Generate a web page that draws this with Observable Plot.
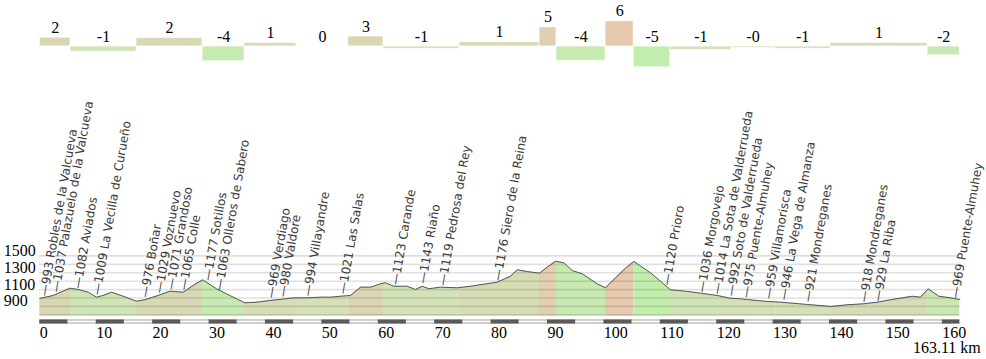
<!DOCTYPE html>
<html><head><meta charset="utf-8">
<script src="https://cdn.jsdelivr.net/npm/d3@7"></script>
<script src="https://cdn.jsdelivr.net/npm/@observablehq/plot@0.6"></script>
<style>
body{margin:0;background:#fff;}
#chart{position:relative;width:986px;height:359px;overflow:hidden;}
#chart svg{position:absolute;left:0;}
</style></head><body><div id="chart"></div>
<script>
const totalKm = 163.11;
// elevation profile (km, m)
const profileKm = [0,2.38,5.32,6.81,8.58,10.05,11.24,12.71,14.79,17.15,18.62,20.99,23.05,25.43,27.2,28.85,31.33,33.69,36.35,38.42,40.78,45.04,47.41,49.77,51.54,53.32,55.09,56.86,58.64,60.41,61.3,62.77,65.14,66.61,67.8,68.97,71.05,74.0,76.37,81.1,83.46,84.65,86.42,88.6,89.96,91.44,92.91,94.4,96.17,98.83,100.3,102.07,103.85,105.32,108.28,111.82,114.49,117.15,120.11,122.46,124.24,125.43,128.37,131.33,136.06,140.2,143.16,146.1,148.48,150.83,154.68,156.15,157.52,159.4,161.47,163.11];
const profileElev = [995,1030,1117,1101,1069,1010,1030,1069,1021,962,979,1030,1081,1069,1149,1217,1110,1030,943,950,970,1002,1002,1010,1010,1021,1030,1129,1129,1169,1181,1140,1140,1101,1140,1110,1129,1121,1140,1188,1260,1336,1315,1295,1367,1438,1419,1327,1288,1169,1121,1240,1355,1435,1300,1098,1081,1057,1030,997,990,982,962,950,923,899,919,931,950,979,1021,1010,1110,1021,1002,982];
// gradient segments
const segBounds = [0,5.44,17.15,28.85,36.3,45.5,54.7,60.94,74.4,88.6,91.6,100.3,105.3,111.8,122.6,130.3,140.2,157.4,163.11];
const segGrade = [2.2,-1.3,2.1,-3.7,0.9,0,2.5,-0.6,1.1,4.8,-3.6,6.3,-5.2,-0.9,-0.4,-0.6,0.9,-2.2];
const segLabel = ["2","-1","2","-4","1","0","3","-1","1","5","-4","6","-5","-1","-0","-1","1","-2"];
// places
const placeKm = [0.71,2.78,6.63,10.05,18.56,21.1,23.17,25.43,29.68,31.74,40.9,42.98,47.41,53.62,62.94,67.8,71.35,81.1,111.06,117.27,119.98,122.46,125.12,129.08,131.81,136.06,146.0,148.48,162.23];
const placeElev = [993,1037,1082,1009,976,1029,1071,1065,1177,1063,969,980,994,1021,1123,1143,1119,1176,1120,1036,1014,992,975,959,946,921,918,929,969];
const placeName = ["Robles de la Valcueva","Palazuelo de la Valcueva","Aviados","La Vecilla de Curueño","Boñar","Voznuevo","Grandoso","Colle","Sotillos","Olleros de Sabero","Verdiago","Valdore","Villayandre","Las Salas","Carande","Riaño","Pedrosa del Rey","Siero de la Reina","Prioro","Morgovejo","La Sota de Valderrueda","Soto de Valderrueda","Puente-Almuhey","Villamorisca","La Vega de Almanza","Mondreganes","Mondreganes","La Riba","Puente-Almuhey"];
const yTicks = [900,1100,1300,1500];
const gridVals = [800,900,1000,1100,1200,1300,1400,1500];
const xTicks = [0,10,20,30,40,50,60,70,80,90,100,110,120,130,140,150,160];

// styling
const W = 986, ML = 39.3, MR = 26.7;
const serif = "'Liberation Serif','Times New Roman',serif";
const colorScale = {type:"linear", domain:[-6,-2,0,2,6], range:["#bfeeab","#cbe7b3","#d6e0b8","#d8d8b3","#e6c9ae"], clamp:true};

const profile = profileKm.map((k,i)=>({km:k, elev:profileElev[i]}));
const segs = segGrade.map((g,i)=>({start:segBounds[i], end:segBounds[i+1], grade:g, label:segLabel[i]}));
const places = placeKm.map((k,i)=>({km:k, elev:placeElev[i], name:placeName[i]}));
const fiveKm = d3.range(0, totalKm, 5).map((s,i)=>({start:s, end:Math.min(s+5,totalKm), dark:i%2===0}));

const chartDiv = document.getElementById("chart");
const common = {width:W, marginLeft:ML, marginRight:MR, style:{background:"transparent", overflow:"visible"}};

// gradient bars
const gradPlot = Plot.plot({...common, height:75, marginTop:0, marginBottom:0,
  x:{domain:[0,totalKm], axis:null},
  y:{domain:[-10,10], range:[86,6], axis:null},
  color:colorScale,
  marks:[
    Plot.rect(segs, {x1:"start", x2:"end", y1:0, y2:"grade", fill:"grade", stroke:"#fff", strokeOpacity:0.7, strokeWidth:1}),
    Plot.text(segs, {x:d=>(d.start+d.end)/2, y:d=>Math.max(0,d.grade), text:"label", dy:-5, lineAnchor:"bottom", fontSize:16, fontFamily:serif, fill:"#000"})
  ]});
gradPlot.style.top = "0px";

// profile
const profPlot = Plot.plot({...common, height:318, marginTop:255.5, marginBottom:2.3,
  x:{domain:[0,totalKm], axis:null},
  y:{domain:[800,1500], range:[314.3,255.5], axis:null},
  color:colorScale,
  marks:[
    Plot.rect(segs, {x1:"start", x2:"end", fill:"grade"}),
    Plot.areaY(profile, {x:"km", y1:"elev", y2:()=>gridVals[gridVals.length-1], fill:"#fff"}),
    Plot.ruleY(gridVals, {stroke:"#000", strokeOpacity:0.12, strokeWidth:1.6}),
    Plot.line(profile, {x:"km", y:"elev", stroke:"#555", strokeWidth:1}),
    Plot.text(yTicks, {y:d=>d, frameAnchor:"left", textAnchor:"start", lineAnchor:"bottom", dx:-36, text:d=>String(d), fontSize:16, fontFamily:serif, fill:"#000"}),
    Plot.text(places, {x:"km", y:"elev", text:d=>"\u2014" + d.elev + " " + d.name, rotate:-80, textAnchor:"start", lineAnchor:"middle", dy:-2.5, fontSize:12, fontFamily:"'DejaVu Sans',sans-serif", fill:"#3a3a3a"})
  ]});
profPlot.style.top = "0px";

// distance bar and axis
const axisPlot = Plot.plot({...common, height:41, marginTop:1.5, marginBottom:35.5,
  x:{domain:[0,totalKm], axis:null},
  marks:[
    Plot.rect([totalKm], {x1:0, x2:d=>d, fill:"#a0a0a0"}),
    Plot.rect(fiveKm.filter(d=>d.dark), {x1:"start", x2:"end", fill:"#5a5a5a"}),
    Plot.rect(fiveKm.filter(d=>!d.dark), {x1:"start", x2:"end", fill:"#fff", insetTop:1, insetBottom:1}),
    Plot.text(xTicks, {x:d=>d, frameAnchor:"bottom", textAnchor:"start", lineAnchor:"bottom", dy:13.5, text:d=>String(d), fontSize:16, fontFamily:serif, fill:"#000"}),
    Plot.text([totalKm], {x:d=>d, frameAnchor:"bottom", textAnchor:"end", lineAnchor:"bottom", dy:28.8, dx:21, text:d=>d + " km", fontSize:16, fontFamily:serif, fill:"#000"})
  ]});
axisPlot.style.top = "318px";

chartDiv.appendChild(gradPlot);
chartDiv.appendChild(profPlot);
chartDiv.appendChild(axisPlot);
</script></body></html>
